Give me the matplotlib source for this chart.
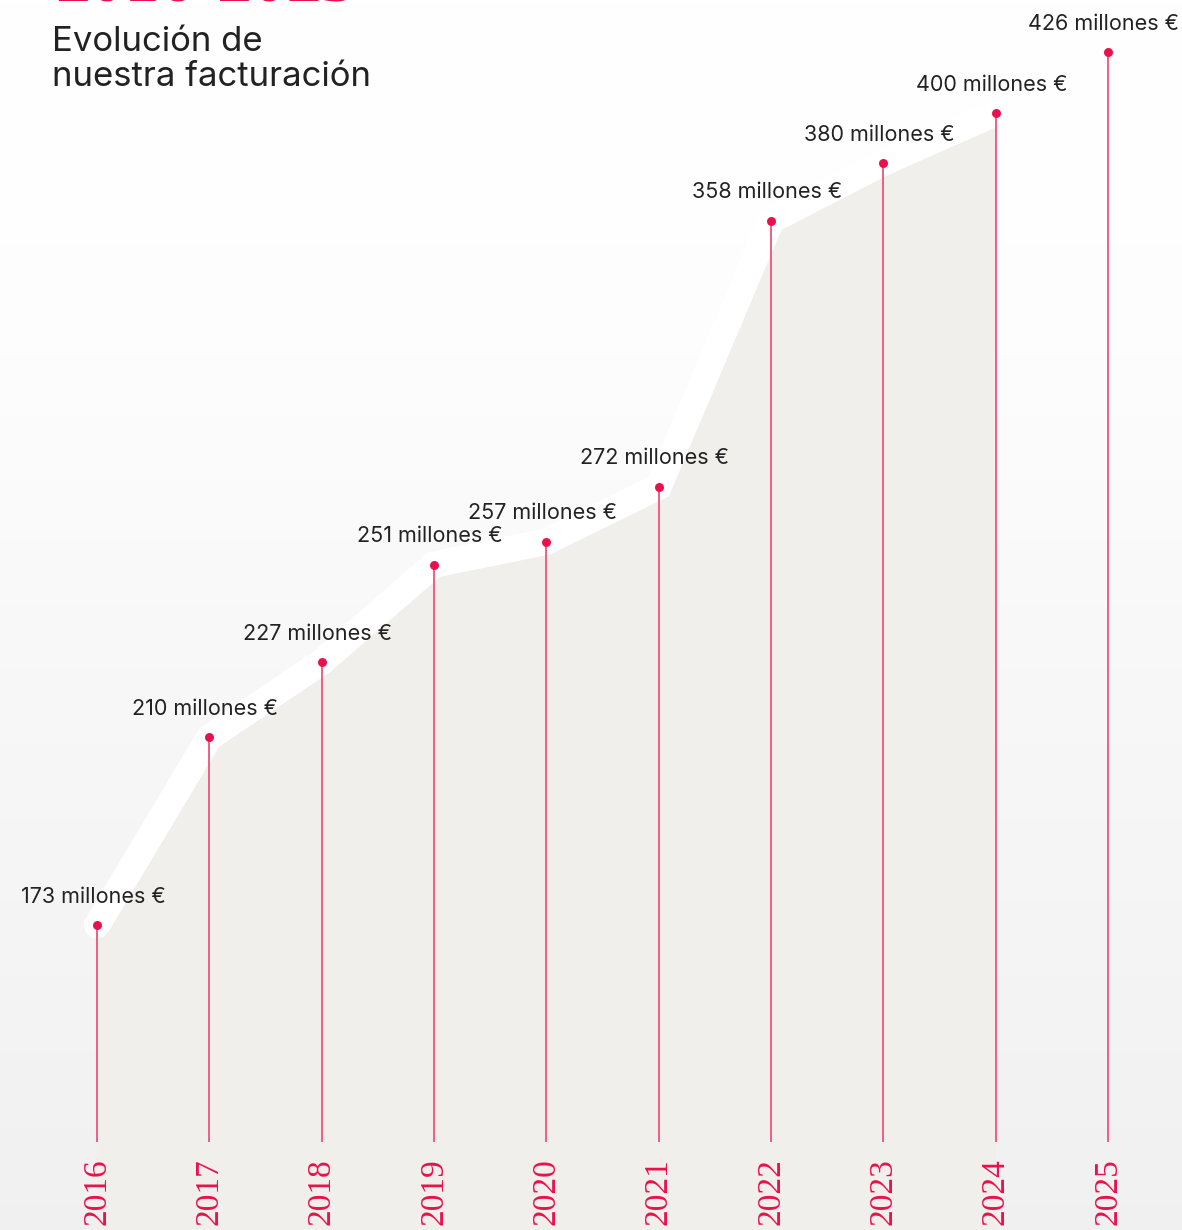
import numpy as np
import matplotlib
matplotlib.use("Agg")
import matplotlib.pyplot as plt
from matplotlib.transforms import blended_transform_factory

# -------------------------------
# Datos
# -------------------------------
anios = [2016, 2017, 2018, 2019, 2020, 2021, 2022, 2023, 2024, 2025]
facturacion = [173, 210, 227, 251, 257, 272, 358, 380, 400, 426]
etiquetas = [f"{v} millones €" for v in facturacion]

ROJO = "#e8114b"
ROSA = "#ee5f83"
TEXTO = "#222222"
AREA = "#f0efeb"

W, H = 1182, 1230
fig = plt.figure(figsize=(W / 100, H / 100), dpi=100)

# -------------------------------
# Fondo degradado (blanco arriba, gris claro abajo)
# -------------------------------
bg = fig.add_axes([0, 0, 1, 1], zorder=0)
filas = np.linspace(0, 1, 400)
gris = np.interp(filas, [0, 0.25, 0.55, 1.0], [1.0, 0.995, 0.972, 0.944])
grad = np.repeat(gris[:, None], 2, axis=1)
bg.imshow(np.dstack([grad, grad, grad]), extent=[0, 1, 0, 1], aspect="auto")
bg.set_xlim(0, 1)
bg.set_ylim(0, 1)
bg.axis("off")

# -------------------------------
# Grafico principal
# -------------------------------
ax = fig.add_axes([0, 0, 1, 1], zorder=1)
ax.patch.set_alpha(0)
ax.set_yscale("log")
ax.set_xlim(2015.136, 2025.659)
ax.set_ylim(126.3, 449.5)
ax.axis("off")

# area gris bajo la curva (hasta 2024) y banda blanca encima
ax.fill_between(anios[:-1], facturacion[:-1], 100, color=AREA, lw=0, zorder=1)
ax.plot(anios[:-1], facturacion[:-1], color="white", lw=19,
        solid_capstyle="round", solid_joinstyle="miter", zorder=2)

# tallos verticales
lo, hi = ax.get_ylim()
base = lo * (hi / lo) ** (1 - 1142 / H)
ax.vlines(anios, base, facturacion, color=ROSA, lw=1.4, zorder=3)
ax.scatter(anios, facturacion, s=42, color=ROJO, zorder=5, linewidths=0)

for x, v, lab in zip(anios, facturacion, etiquetas):
    ax.annotate(lab, (x, v), xytext=(-3, 16), textcoords="offset points",
                ha="center", va="baseline", fontsize=15.5, color=TEXTO,
                family="Inter", annotation_clip=False)

# anios rotados abajo
trans = blended_transform_factory(ax.transData, ax.transAxes)
for x in anios:
    ax.text(x, 0.004, str(x), transform=trans, rotation=90, ha="center",
            va="bottom", fontsize=24, family="Liberation Serif", color=ROJO)

# -------------------------------
# Titulos
# -------------------------------
fig.text(55 / W, 1 - 1 / H, "2016-2025", va="baseline", ha="left",
         fontsize=50, family="Liberation Serif", weight="bold", color=ROJO)
fig.text(52 / W, 1 - 26 / H, "Evolución de\nnuestra facturación", va="top",
         ha="left", fontsize=25, family="Inter", color=TEXTO, linespacing=1.12)

plt.savefig("out.png", dpi=100)
plt.close()
